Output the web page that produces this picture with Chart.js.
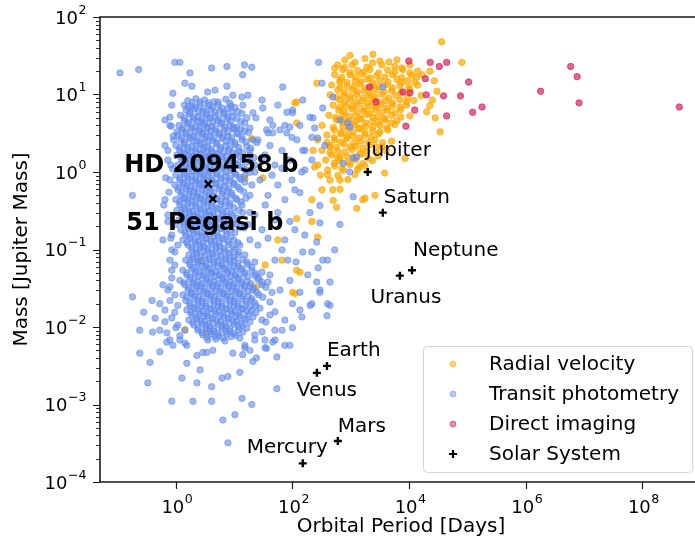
<!DOCTYPE html>
<html>
<head>
<meta charset="utf-8">
<script src="https://cdn.jsdelivr.net/npm/chart.js@4.4.1/dist/chart.umd.min.js"></script>
<style>
html,body{margin:0;padding:0;background:#fff;overflow:hidden}
canvas{display:block}
</style>
</head>
<body>
<canvas id="exoChart" width="695" height="547"></canvas>
<script>
// ── Data: [orbital period (days), mass (Jupiter masses)] ──
var rvPlanets = [
  [36000,48],[966,32],[2400,33],
  [790,28],[1750,29],[3150,27],[6200,28],
  [600,24],[1050,24],[3400,24],[5700,23],[10300,24],[80000,26],
  [730,21],[1300,20.5],[2130,21],[4300,20.7],[7800,21],[14000,20],
  [530,18],[970,17.9],[1550,18.5],[2800,17.5],[5200,18],[11000,17.6],[16800,18],
  [650,15.4],[1180,15],[1900,15.8],[3150,15.2],[6200,15.6],[9400,15],
  [470,13.3],[860,13],[1430,13.6],[2350,13],[4000,13.4],[6950,13],[14000,13.2],
  [600,11.4],[1050,11.6],[1680,11.2],[2700,11.5],[5000,11.2],[10300,11.5],
  [440,9.9],[750,9.7],[1260,10],[2020,9.6],[3400,10],[5900,9.8],[16000,9.7],
  [650,8.5],[970,8.7],[1550,8.3],[2480,8.6],[4000,8.3],[6950,8.6],[12000,8.4],
  [500,7.3],[820,7.1],[1300,7.4],[2130,7.1],[3300,7.4],[5200,7.2],[9000,7.3],[22700,7.2],
  [620,6.3],[1050,6.5],[1680,6.1],[2700,6.4],[4300,6.2],[7200,6.4],
  [420,5.4],[730,5.5],[1180,5.3],[1900,5.5],[2950,5.2],[5000,5.4],[10300,5.3],
  [570,4.7],[930,4.6],[1430,4.8],[2350,4.5],[3850,4.7],[6200,4.6],
  [320,4.0],[730,3.9],[1180,4.1],[1800,3.9],[3150,4.0],[5700,4.1],[34000,3.3],
  [520,3.5],[890,3.4],[1380,3.6],[2350,3.4],[4300,3.5],
  [390,3.0],[680,3.1],[1100,2.9],[1750,3.0],[2950,3.1],
  [270,2.6],[530,2.6],[860,2.7],[1480,2.5],[2600,2.6],[5000,2.5],
  [440,2.2],[750,2.3],[1220,2.15],[2130,2.25],[3400,2.1],
  [320,1.9],[600,1.85],[1050,1.95],[1900,1.85],[4000,1.9],
  [470,1.66],[860,1.6],[1550,1.7],[2950,1.62],[8500,1.5],
  [370,1.43],[650,1.4],[1220,1.45],[2350,1.4],
  [270,1.23],[530,1.2],[970,1.25],[1750,1.2],[3800,0.97],
  [400,1.06],[750,1.05],[1300,1.08],
  [300,0.91],[600,0.9],[1180,0.93],
  [440,0.79],[890,0.8],
  [320,0.59],[650,0.6],[490,0.59],
  [215,0.44],[500,0.43],[1600,0.44],[2600,0.5],[1750,0.46],[1260,0.34],[570,0.35],
  [118,8],[260,14],[650,14.5],[530,22],[110,7.8],[118,4.3],[730,4.7],
  [15.3,0.84],[31,0.84],[20,2.7],[440,2.1],[650,1.56],[225,1.9],[240,1.16],[400,0.93],[650,0.79],
  [56,0.133],[66,0.073],[34,0.063],[118,0.054],[100,0.028],[2.58,0.073],[24,0.033],
  [1.43,0.0092],[3.4,0.0084],[118,0.25],[215,0.23],[270,0.145],[134,0.051],[110,0.027]
];

// densest part of the radial-velocity group
var rvCore = [
  [1180,26],[2350,25.5],[4500,26.3],
  [790,22.3],[1900,22.6],[7450,22],
  [966,19.2],[1680,19.5],[3000,19],[5700,19.4],[10300,19],
  [700,16.6],[1220,16.9],[2130,16.4],[3850,16.8],[7450,16.5],[13500,16.7],
  [860,14.3],[1480,14.6],[2400,14.1],[4330,14.5],[7450,14.2],[12600,14.4],
  [650,12.3],[1130,12.6],[1810,12.1],[3000,12.5],[5200,12.2],[9900,12.4],
  [790,10.6],[1300,10.9],[2130,10.4],[3700,10.8],[7200,10.5],
  [570,9.15],[966,9.4],[1620,9.0],[2590,9.3],[4500,9.0],[9400,9.2],
  [790,7.9],[1220,8.1],[1960,7.8],[3150,8.0],[5200,7.8],[9000,8.0],
  [650,6.8],[1050,7.0],[1680,6.7],[2700,6.9],[4150,6.7],[6950,6.9],
  [790,5.85],[1300,6.0],[2130,5.75],[3400,5.95],[5700,5.8],
  [550,5.05],[930,5.2],[1480,4.95],[2400,5.1],[3850,4.95],[7200,5.1],
  [730,4.35],[1180,4.45],[1810,4.3],[2950,4.4],[4900,4.3],
  [500,3.75],[930,3.85],[1480,3.7],[2400,3.8],[4150,3.7],
  [680,3.23],[1100,3.3],[1750,3.2],[3150,3.28],
  [520,2.78],[860,2.85],[1380,2.75],[2250,2.82],
  [390,2.4],[680,2.45],[1130,2.37],[1960,2.43],[3500,2.38],
  [570,2.07],[966,2.12],[1620,2.04],[2700,2.1],
  [440,1.78],[790,1.82],[1430,1.76],[2700,1.8],
  [600,1.52],[1100,1.55],[2000,1.5],[520,1.3],[900,1.32],[1600,1.28],[700,1.12],[1400,1.15],
  [22700,20],[27000,15],[30000,11],[25000,8.5],[20000,6],[28000,5]
];

// hot Jupiters and other transiting giants
var transitGiants = [
  [1.6,8.3],[2.2,8.8],[3.1,8.5],[4.5,8.1],[7.2,8.7],
  [1.4,7.3],[1.9,7.0],[2.6,7.5],[3.7,7.2],[5.3,7.4],[8.8,7.1],
  [1.5,6.3],[2.1,6.5],[2.9,6.1],[4.0,6.4],[5.7,6.2],[7.8,6.6],[11.6,6.0],
  [1.2,5.4],[1.7,5.6],[2.4,5.2],[3.3,5.5],[4.7,5.3],[6.7,5.6],[9.5,5.2],
  [1.4,4.6],[2.0,4.8],[2.7,4.5],[3.7,4.9],[5.2,4.6],[7.5,4.8],[13,4.5],
  [1.13,4.0],[1.6,4.2],[2.2,3.9],[3.0,4.1],[4.1,3.9],[5.9,4.2],[8.4,4.0],[11,3.8],
  [1.27,3.5],[1.8,3.6],[2.5,3.4],[3.4,3.6],[4.7,3.4],[6.7,3.5],[9.5,3.6],[15,3.4],
  [1.08,3.0],[1.5,3.1],[2.0,2.9],[2.8,3.1],[3.8,2.95],[5.5,3.05],[7.8,2.9],[11.6,3.1],
  [1.22,2.6],[1.7,2.7],[2.3,2.5],[3.1,2.65],[4.3,2.55],[6.2,2.7],[8.8,2.5],[13.6,2.6],
  [1.0,2.2],[1.37,2.3],[1.9,2.15],[2.6,2.25],[3.5,2.15],[5.0,2.3],[7.2,2.2],[10.3,2.25],[16.5,2.15],
  [1.17,1.9],[1.6,1.95],[2.2,1.85],[3.0,1.95],[4.1,1.85],[5.7,1.95],[8.1,1.9],[12,1.85],
  [1.04,1.66],[1.43,1.7],[1.96,1.6],[2.7,1.7],[3.7,1.62],[5.25,1.7],[7.5,1.62],[10.7,1.68],[18.6,1.64],
  [1.27,1.43],[1.74,1.47],[2.4,1.4],[3.3,1.46],[4.5,1.4],[6.4,1.45],[9.1,1.4],[14.1,1.45],
  [1.08,1.23],[1.48,1.26],[2.04,1.2],[2.8,1.25],[3.83,1.21],[5.5,1.25],[7.8,1.2],[11.6,1.24],
  [1.22,1.06],[1.67,1.09],[2.3,1.03],[3.14,1.08],[4.3,1.04],[6.15,1.08],[8.8,1.04],[15.9,1.07],
  [1.0,0.91],[1.37,0.94],[1.88,0.89],[2.58,0.93],[3.54,0.9],[5.05,0.93],[7.2,0.89],[10.7,0.92],
  [1.17,0.79],[1.61,0.81],[2.2,0.77],[3.02,0.8],[4.14,0.78],[5.9,0.81],[8.44,0.77],[13,0.8],
  [0.96,0.68],[1.32,0.7],[1.81,0.66],[2.48,0.69],[3.4,0.67],[4.85,0.7],[6.93,0.66],[9.9,0.69],
  [1.08,0.59],[1.48,0.61],[2.04,0.57],[2.79,0.6],[3.83,0.58],[5.46,0.61],[7.8,0.57],[12.5,0.6],
  [1.22,0.5],[1.67,0.52],[2.29,0.49],[3.14,0.51],[4.31,0.49],[6.15,0.52],[9.1,0.5],
  [1.0,0.44],[1.37,0.45],[1.88,0.43],[2.58,0.45],[3.54,0.43],[5.05,0.45],[7.2,0.43],[11.1,0.44],
  [1.17,0.375],[1.61,0.39],[2.2,0.37],[3.02,0.385],[4.14,0.365],[5.9,0.38],[8.44,0.37],
  [1.04,0.32],[1.43,0.33],[1.96,0.31],[2.68,0.325],[3.68,0.315],[5.25,0.33],[7.5,0.31],[12,0.32],
  [1.27,0.28],[1.74,0.29],[2.38,0.27],[3.27,0.285],[4.48,0.275],[6.4,0.285],[9.5,0.275],
  [1.13,0.24],[1.54,0.25],[2.12,0.235],[2.9,0.245],[3.98,0.235],[5.68,0.245],[8.1,0.24],
  [1.37,0.21],[1.88,0.215],[2.58,0.205],[3.54,0.215],[4.85,0.205],[6.93,0.215],[10.7,0.21],
  [1.22,0.18],[1.67,0.185],[2.29,0.175],[3.14,0.185],[4.31,0.175],[6.15,0.185],[8.8,0.18],
  [1.48,0.154],[2.04,0.16],[2.79,0.15],[3.83,0.158],[5.25,0.15],[7.5,0.157],
  [1.32,0.133],[1.81,0.137],[2.48,0.13],[3.4,0.136],[4.67,0.13],[6.66,0.136],[9.9,0.132],
  [1.61,0.114],[2.2,0.118],[3.02,0.111],[4.14,0.117],[5.68,0.112],[8.1,0.116],
  [1.88,0.099],[2.58,0.102],[3.54,0.097],[4.85,0.101],[6.93,0.096],[10.3,0.1],
  [1.67,0.085],[2.29,0.088],[3.14,0.083],[4.31,0.087],[5.91,0.083],[8.44,0.086]
];

var transitGiantsB = [
  [1.9,7.9],[2.6,8.1],[3.6,7.8],[5.3,8.0],[8.4,7.7],
  [1.64,6.8],[2.2,6.9],[3.0,6.7],[4.3,6.9],[6.2,6.7],[10.3,6.8],
  [1.76,5.85],[2.46,6.0],[3.4,5.75],[4.7,5.9],[6.7,5.8],[9.1,5.95],[13.6,5.7],
  [1.4,5.0],[2.0,5.1],[2.8,4.9],[3.9,5.05],[5.5,4.95],[7.8,5.1],[11.1,4.9],
  [1.64,4.35],[2.34,4.45],[3.16,4.3],[4.33,4.4],[6.1,4.3],[8.8,4.45],[15.2,4.3],
  [1.32,3.7],[1.87,3.8],[2.57,3.65],[3.5,3.78],[4.8,3.66],[6.9,3.8],[9.8,3.7],[12.9,3.6],
  [1.49,3.25],[2.1,3.33],[2.9,3.2],[4.0,3.3],[5.5,3.2],[7.8,3.3],[11.1,3.22],[17.6,3.25],
  [1.26,2.8],[1.76,2.86],[2.34,2.76],[3.3,2.85],[4.45,2.76],[6.4,2.84],[9.1,2.77],[13.6,2.83],
  [1.43,2.42],[2.0,2.48],[2.7,2.38],[3.6,2.46],[5.0,2.38],[7.3,2.47],[10.3,2.4],[15.9,2.44],
  [1.17,2.05],[1.6,2.1],[2.22,2.02],[3.04,2.08],[4.1,2.0],[5.85,2.08],[8.4,2.02],[12,2.07],[19.3,2.03],
  [1.37,1.77],[1.87,1.8],[2.57,1.74],[3.5,1.8],[4.8,1.73],[6.7,1.8],[9.5,1.76],[14,1.78],
  [1.22,1.54],[1.67,1.58],[2.3,1.51],[3.16,1.57],[4.33,1.52],[6.15,1.57],[8.8,1.52],[12.5,1.56],[21.8,1.53],
  [1.49,1.33],[2.04,1.36],[2.8,1.31],[3.86,1.35],[5.27,1.31],[7.5,1.35],[10.6,1.31],[16.5,1.34],
  [1.26,1.14],[1.73,1.17],[2.39,1.12],[3.28,1.16],[4.48,1.12],[6.4,1.16],[9.1,1.12],[13.6,1.15],
  [1.43,0.985],[1.95,1.01],[2.7,0.97],[3.67,1.0],[5.03,0.97],[7.2,1.0],[10.3,0.97],[18.6,0.99],
  [1.17,0.845],[1.6,0.87],[2.2,0.83],[3.02,0.86],[4.14,0.83],[5.9,0.86],[8.4,0.83],[12.5,0.85],
  [1.37,0.735],[1.88,0.755],[2.57,0.72],[3.53,0.745],[4.84,0.725],[6.9,0.75],[9.9,0.72],[15.2,0.74],
  [1.12,0.63],[1.54,0.65],[2.12,0.62],[2.9,0.645],[4.0,0.62],[5.7,0.645],[8.1,0.62],[11.6,0.64],
  [1.26,0.55],[1.73,0.565],[2.39,0.535],[3.26,0.56],[4.48,0.54],[6.4,0.565],[9.1,0.535],[14.6,0.555],
  [1.43,0.465],[1.95,0.48],[2.68,0.455],[3.67,0.475],[5.04,0.455],[7.2,0.48],[10.6,0.46],
  [1.17,0.41],[1.6,0.42],[2.2,0.4],[3.02,0.415],[4.14,0.4],[5.9,0.42],[8.4,0.4],[13,0.41],
  [1.37,0.35],[1.88,0.36],[2.57,0.342],[3.53,0.357],[4.84,0.343],[6.9,0.356],[9.9,0.345],
  [1.22,0.3],[1.67,0.307],[2.3,0.293],[3.14,0.305],[4.3,0.294],[6.15,0.306],[8.8,0.292],[14,0.3],
  [1.49,0.26],[2.04,0.267],[2.79,0.254],[3.83,0.265],[5.25,0.255],[7.5,0.265],[11.1,0.256],
  [1.32,0.223],[1.8,0.23],[2.48,0.218],[3.4,0.228],[4.66,0.218],[6.65,0.227],[9.5,0.22],
  [1.6,0.195],[2.2,0.2],[3.02,0.19],[4.14,0.198],[5.7,0.19],[8.1,0.198],[12.5,0.193],
  [1.43,0.167],[1.95,0.172],[2.68,0.163],[3.67,0.17],[5.04,0.163],[7.2,0.171],[10.3,0.165],
  [1.73,0.143],[2.39,0.147],[3.26,0.14],[4.48,0.146],[6.15,0.14],[8.8,0.145],
  [1.54,0.123],[2.12,0.127],[2.9,0.121],[4.0,0.126],[5.46,0.121],[7.8,0.126],[11.6,0.122],
  [1.88,0.106],[2.57,0.109],[3.53,0.104],[4.84,0.108],[6.65,0.104],[9.5,0.107],
  [2.2,0.092],[3.02,0.095],[4.14,0.09],[5.7,0.094],[8.1,0.09],[12,0.093],
  [1.95,0.079],[2.68,0.081],[3.67,0.077],[5.04,0.08],[6.9,0.077],[9.9,0.08]
];

// Neptunes and super-Earths
var transitSmall = [
  [1.48,0.073],[2.04,0.075],[2.79,0.071],[3.83,0.074],[5.25,0.071],[7.2,0.075],[9.9,0.072],[14.1,0.074],
  [1.74,0.063],[2.38,0.065],[3.27,0.061],[4.48,0.064],[6.15,0.062],[8.44,0.065],[11.6,0.061],[17.2,0.064],
  [1.32,0.054],[1.88,0.056],[2.58,0.053],[3.54,0.055],[4.85,0.052],[6.66,0.056],[9.13,0.053],[13,0.055],[20,0.053],
  [1.54,0.047],[2.12,0.048],[2.9,0.046],[3.98,0.048],[5.46,0.046],[7.5,0.048],[10.3,0.046],[14.7,0.048],[22.6,0.046],
  [1.17,0.04],[1.74,0.041],[2.38,0.039],[3.27,0.041],[4.48,0.039],[6.15,0.041],[8.44,0.039],[11.6,0.041],[16.5,0.039],[25.5,0.041],
  [1.43,0.035],[1.96,0.036],[2.68,0.034],[3.68,0.036],[5.05,0.034],[6.93,0.036],[9.5,0.034],[13,0.036],[18.6,0.034],[30,0.035],
  [1.61,0.03],[2.2,0.031],[3.02,0.029],[4.14,0.031],[5.68,0.029],[7.8,0.031],[10.7,0.029],[14.7,0.031],[20.9,0.03],
  [1.32,0.026],[1.81,0.027],[2.48,0.025],[3.4,0.027],[4.67,0.025],[6.4,0.027],[8.8,0.025],[12,0.027],[17.2,0.025],[26.5,0.026],
  [1.48,0.022],[2.04,0.023],[2.79,0.0215],[3.83,0.023],[5.25,0.0215],[7.2,0.023],[9.9,0.0215],[13.6,0.023],[19.3,0.022],
  [1.74,0.019],[2.38,0.0197],[3.27,0.0185],[4.48,0.0196],[6.15,0.0185],[8.44,0.0196],[11.6,0.0186],[15.9,0.0195],[23.6,0.0188],
  [1.54,0.0166],[2.12,0.0171],[2.9,0.0162],[3.98,0.017],[5.46,0.0162],[7.5,0.017],[10.3,0.0162],[14.1,0.017],[20.1,0.0165],
  [1.88,0.0143],[2.58,0.0147],[3.54,0.014],[4.85,0.0147],[6.66,0.014],[9.13,0.0147],[12.5,0.014],[17.9,0.0145],
  [1.67,0.0123],[2.29,0.0127],[3.14,0.012],[4.31,0.0126],[5.91,0.012],[8.11,0.0126],[11.1,0.012],[15.9,0.0125],
  [2.04,0.0106],[2.79,0.011],[3.83,0.0103],[5.25,0.0109],[7.2,0.0103],[9.9,0.0109],[14.1,0.0105],
  [2.38,0.0091],[3.27,0.0094],[4.48,0.0089],[6.15,0.0094],[8.44,0.0089],[12,0.0092],
  [2.9,0.0079],[3.98,0.0082],[5.46,0.0077],[7.49,0.0081],[10.7,0.0078],
  [3.54,0.0068],[4.85,0.007],[6.93,0.0066]
];

var transitSmallB = [
  [1.73,0.068],[2.39,0.07],[3.26,0.066],[4.48,0.069],[6.15,0.066],[8.4,0.07],[11.6,0.067],[16.5,0.069],
  [2.04,0.0585],[2.79,0.06],[3.83,0.057],[5.25,0.0595],[7.2,0.057],[9.9,0.06],[13.6,0.057],[20.1,0.059],
  [1.54,0.05],[2.2,0.052],[3.02,0.049],[4.14,0.051],[5.7,0.0485],[7.8,0.052],[10.7,0.049],[15.2,0.051],[23.4,0.049],
  [1.8,0.0437],[2.48,0.0447],[3.4,0.0428],[4.66,0.0446],[6.4,0.0428],[8.8,0.0446],[12,0.0428],[17.2,0.0446],[26.4,0.043],
  [1.37,0.0372],[2.04,0.038],[2.79,0.0363],[3.83,0.038],[5.25,0.0363],[7.2,0.038],[9.9,0.0363],[13.6,0.038],[19.3,0.0363],[29.8,0.038],
  [1.67,0.0325],[2.3,0.0335],[3.14,0.0316],[4.3,0.0334],[5.9,0.0316],[8.1,0.0334],[11.1,0.0316],[15.2,0.0334],[21.8,0.0316],[35,0.0325],
  [1.88,0.0279],[2.57,0.0288],[3.53,0.027],[4.84,0.0288],[6.65,0.027],[9.1,0.0288],[12.5,0.027],[17.2,0.0288],[24.5,0.0279],
  [1.54,0.0242],[2.12,0.025],[2.9,0.0233],[4.0,0.025],[5.46,0.0233],[7.5,0.025],[10.3,0.0233],[14,0.025],[20.1,0.0233],[31,0.0242],
  [1.73,0.0205],[2.39,0.0214],[3.26,0.02],[4.48,0.0214],[6.15,0.02],[8.4,0.0214],[11.6,0.02],[15.9,0.0214],[22.6,0.0205],
  [2.04,0.0177],[2.79,0.0183],[3.83,0.0172],[5.25,0.0182],[7.2,0.0172],[9.9,0.0182],[13.6,0.0173],[18.6,0.0181],[27.6,0.0175],
  [1.8,0.0154],[2.48,0.0159],[3.4,0.015],[4.66,0.0158],[6.4,0.015],[8.8,0.0158],[12,0.015],[16.5,0.0158],[23.5,0.0153],
  [2.2,0.0133],[3.02,0.0137],[4.14,0.013],[5.7,0.0137],[7.8,0.013],[10.7,0.0137],[14.6,0.013],[21,0.0135],
  [1.95,0.0114],[2.68,0.0118],[3.67,0.0111],[5.04,0.0117],[6.9,0.0111],[9.5,0.0117],[13,0.0111],[18.6,0.0116],
  [2.39,0.0098],[3.26,0.0102],[4.48,0.0096],[6.15,0.0101],[8.4,0.0096],[11.6,0.0101],[16.5,0.0097],
  [2.79,0.0085],[3.83,0.0087],[5.25,0.0083],[7.2,0.0087],[9.9,0.0083],[14,0.0086],
  [3.4,0.0073],[4.66,0.0076],[6.4,0.0072],[8.8,0.0075],[12.5,0.0072]
];

// fringe of both groups
var transitEdge = [
  [0.85,7.3],[0.79,4.0],[0.92,2.6],[0.73,1.9],[0.82,1.23],[0.67,0.84],[0.76,0.55],[0.62,0.375],
  [0.73,0.23],[0.82,0.14],[0.96,0.093],
  [14.1,7.3],[16.5,5.0],[18.6,3.7],[20.9,2.6],[17.9,1.43],[22.6,1.0],[20.1,0.68],[15.9,0.46],
  [18.6,0.3],[14.7,0.19],[12.5,0.114],[11.6,0.085],
  [0.96,0.063],[0.85,0.043],[0.73,0.03],[0.79,0.022],[0.65,0.0166],[0.85,0.0131],[1.0,0.0098],[1.17,0.0077],
  [22.6,0.069],[29.9,0.051],[38,0.038],[44.5,0.028],[41,0.021],[50,0.0157],[35,0.0116],[29.9,0.0087],
  [22.6,0.0068],[15.3,0.0054],
  [17.2,9.8],[23.6,5.0],[30,8.5],[41,4.7],[56,7.3],[74,4.0],[98,2.8],[134,4.0],[163,1.9],[240,3.7],
  [360,2.2],[30,1.43],[44.5,0.91],[66,1.12],[98,0.79],[144,1.0],[34,0.375],[56,0.3],[90,0.23],
  [163,0.154],[25.5,0.114],[38,0.14],[66,0.099],[115,0.069],[183,0.047],[90,0.04],[134,0.028],
  [215,0.093],[650,0.21],[530,0.099]
];

// sparse transiting planets around the two main groups
var transitScattered = [
  [0.11,19],[0.23,21],[0.96,26],[1.17,26],[1.74,19],[4.1,22],[7.5,23],[15,24],[20,22.5],[14,18],
  [68,12.5],[1.43,14],[0.89,10.4],[1.88,12.8],[3.5,10.8],[4.7,11.4],[7.5,12.8],[9.5,9.8],[13.6,9.3],
  [0.65,4.7],[0.79,5.1],[1.04,3.3],[21,5.8],[31,6.7],[46,4.0],[100,5.8],[80,3.2],[38,3.2],[24.5,2.4],
  [280,26],[320,14],[150,8.5],[490,9.3],[330,6.7],[80,5.9],[100,6.3],[200,5.1],[225,5.0],
  [650,4.7],[890,4.3],[36,3.5],[61,3.5],[90,3.8],[46,3.2],[215,2.8],[270,2.75],[150,1.9],[1260,1.56],[3550,12.5],
  [960,3.8],[1100,1.5],[960,1.0],[1100,0.48],[740,1.3],
  [18.6,1.9],[25.5,2.6],[33.6,1.66],[41,2.2],[50,1.23],[66,1.9],[90,1.43],[119,2.6],[163,1.06],[215,1.43],
  [27.6,0.79],[38,0.5],[56,0.68],[74,0.44],[110,0.59],[134,0.54],[295,0.37],[199,0.3],[295,0.22],
  [22.6,0.28],[30,0.18],[50,0.24],[74,0.133],[110,0.18],[150,0.093],[260,0.125],[83,0.073],
  [330,0.073],[400,0.073],[275,0.058],[50,0.073],[41,0.047],[61,0.03],[260,0.038],[440,0.038],
  [295,0.028],[200,0.019],[440,0.019],[100,0.02],[145,0.0135],[390,0.014],[134,0.0166],[74,0.0123],
  [41,0.0143],[50,0.0091],[33.6,0.0068],[22.6,0.0079],[15.3,0.0058],[74,0.0058],[30,0.0123],
  [18.6,0.133],[15.3,0.085],[17.2,0.21],[13.6,0.375],[18.6,0.5],[15.3,0.91],[22.6,1.23],
  [0.18,0.5],[0.65,2.2],[0.73,1.43],[0.79,0.79],[0.65,0.44],[0.73,0.28],[0.85,0.154],[0.6,0.133],
  [0.85,0.099],[0.79,0.073],[1.08,0.114],[1.0,0.21],[0.83,3.9],[0.9,2.9],[0.88,1.1],
  [0.18,0.0245],[0.39,0.022],[0.53,0.02],[0.79,0.033],[0.85,0.054],[0.6,0.035],[0.28,0.0155],
  [0.4,0.0086],[0.53,0.0091],[0.7,0.0084],[0.44,0.013],[0.65,0.0117],[0.96,0.0155],[1.08,0.0106],
  [0.79,0.0068],[1.17,0.0068],[1.43,0.0091],[0.96,0.026],[1.08,0.019],[0.24,0.0091],
  [0.24,0.0046],[0.36,0.0035],[0.53,0.0048],[0.33,0.0019],[1.27,0.0022],[2.3,0.0019],[4.1,0.0017],
  [6.2,0.0022],[7.8,0.0023],[12.5,0.0026],[14,0.0044],[21,0.0036],[34,0.0054],[46,0.0064],[54,0.0016],
  [0.85,0.0011],[1.96,0.0011],[4.1,0.0011],[13.6,0.0012],[20,0.001],[10.3,0.00074],[6.4,0.00063],
  [7.8,0.00032],[2.6,0.0028],[1.54,0.0034],[0.89,0.0058],[1.43,0.0062],[2.9,0.0047],[0.7,0.0064],
  [1.54,0.0058],[2.3,0.0043],[3.4,0.0047],[24,0.004],[36,0.0053],[50,0.0068],[9.5,0.0046],[4.3,0.005],
  [18.6,0.005],[90,0.0058],[54,0.0041],[66,0.0091],[100,0.0098],[215,0.02],[295,0.03],[400,0.02]
];

var imagingPlanets = [
  [9900,27],[23000,26],[33000,23],[44000,26],[19000,16],[2100,12.5],[2700,8],
  [7800,10.8],[10300,10.5],[19700,9.9],[39000,9.6],[76000,9.6],[105000,14.5],
  [12500,6.3],[44000,5.3],[123000,5.9],[178000,6.9],[8800,3.9],
  [1.8e6,11],[5.9e6,23],[7.6e6,17],[8.2e6,7.8],[4.3e8,6.9]
];

var solarNames   = ['Mercury','Venus','Earth','Mars','Jupiter','Saturn','Uranus','Neptune'];
var solarPeriods = [150, 262, 390, 600, 1950, 3540, 6950, 11200];
var solarMasses  = [0.000174, 0.00256, 0.00315, 0.000338, 1.0, 0.299, 0.046, 0.054];

var namedNames   = ['HD 209458 b', '51 Pegasi b'];
var namedPeriods = [3.6, 4.3];
var namedMasses  = [0.70, 0.45];

var xTickExps = [0, 2, 4, 6, 8];
var yTickExps = [-4, -3, -2, -1, 0, 1, 2];
var xRange = [0.05, 8e8];
var yRange = [1e-4, 100];

// ── Styles ──
var FONT = '"DejaVu Sans", sans-serif';
var COL_RV = 'rgba(255,168,0,0.7)';
var COL_TR = 'rgba(96,138,236,0.6)';
var COL_DI = 'rgba(214,28,92,0.68)';

// where each name sits relative to its marker
var labelPos = {
  'Mercury': {dx: 25, dy: -10, align: 'right'},
  'Venus':   {dx: 10, dy: 23, align: 'center'},
  'Earth':   {dx: 0, dy: -10, align: 'left'},
  'Mars':    {dx: 0, dy: -9, align: 'left'},
  'Jupiter': {dx: -2, dy: -16, align: 'left'},
  'Saturn':  {dx: 1, dy: -10, align: 'left'},
  'Uranus':  {dx: 6, dy: 27, align: 'center'},
  'Neptune': {dx: 1, dy: -14, align: 'left'},
  'HD 209458 b': {dx: 3, dy: -12, align: 'center', bold: true},
  '51 Pegasi b': {dx: -8, dy: 31, align: 'center', bold: true}
};

function toPoints(list) {
  return list.map(function(p) { return {x: p[0], y: p[1]}; });
}
function zipPoints(xs, ys) {
  return xs.map(function(x, i) { return {x: x, y: ys[i]}; });
}

// draws "10" with a raised exponent
function powLabel(ctx, exp, x, y, align) {
  var base = '10', sup = exp < 0 ? '\u2212' + (-exp) : String(exp);
  ctx.font = '18px ' + FONT;
  var wb = ctx.measureText(base).width;
  ctx.font = '12.6px ' + FONT;
  var ws = ctx.measureText(sup).width;
  var x0 = align === 'right' ? x - wb - ws : x - (wb + ws) / 2;
  ctx.textAlign = 'left';
  ctx.textBaseline = 'alphabetic';
  ctx.font = '18px ' + FONT;
  ctx.fillText(base, x0, y);
  ctx.font = '12.6px ' + FONT;
  ctx.fillText(sup, x0 + wb + 0.5, y - 10);
}

var framePlugin = {
  id: 'frame',
  afterDatasetsDraw: function(chart) {
    var ctx = chart.ctx, xs = chart.scales.x, ys = chart.scales.y;
    ctx.save();
    ctx.fillStyle = '#000';
    ctx.textBaseline = 'alphabetic';
    var names = solarNames.concat(namedNames);
    var pers = solarPeriods.concat(namedPeriods);
    var mass = solarMasses.concat(namedMasses);
    names.forEach(function(n, i) {
      var lp = labelPos[n];
      var px = xs.getPixelForValue(pers[i]), py = ys.getPixelForValue(mass[i]);
      ctx.font = (lp.bold ? 'bold 24px ' : '20px ') + FONT;
      ctx.textAlign = lp.align;
      ctx.fillText(n, px + lp.dx, py + lp.dy);
    });
    ctx.restore();
  },
  afterDraw: function(chart) {
    var ctx = chart.ctx, a = chart.chartArea, xs = chart.scales.x, ys = chart.scales.y;
    ctx.save();
    // spines
    ctx.strokeStyle = '#1a1a1a';
    ctx.lineWidth = 1.6;
    ctx.beginPath();
    ctx.moveTo(a.left, a.top); ctx.lineTo(a.right, a.top);
    ctx.moveTo(a.left, a.top - 0.8); ctx.lineTo(a.left, a.bottom + 0.8);
    ctx.moveTo(a.left, a.bottom); ctx.lineTo(a.right, a.bottom);
    ctx.stroke();

    // tick marks
    ctx.lineWidth = 1.2;
    ctx.beginPath();
    yTickExps.forEach(function(e) {
      var py = Math.round(ys.getPixelForValue(Math.pow(10, e))) + 0.5;
      ctx.moveTo(a.left - 7, py); ctx.lineTo(a.left, py);
    });
    xTickExps.forEach(function(e) {
      var px = Math.round(xs.getPixelForValue(Math.pow(10, e))) + 0.5;
      ctx.moveTo(px, a.bottom); ctx.lineTo(px, a.bottom + 7);
    });
    ctx.stroke();
    ctx.lineWidth = 0.9;
    ctx.beginPath();
    for (var e = -4; e < 2; e++) {
      for (var m = 2; m < 10; m++) {
        var py = Math.round(ys.getPixelForValue(m * Math.pow(10, e))) + 0.5;
        ctx.moveTo(a.left - 4, py); ctx.lineTo(a.left, py);
      }
    }
    ctx.stroke();

    // tick labels
    ctx.fillStyle = '#000';
    yTickExps.forEach(function(e) {
      powLabel(ctx, e, 86, ys.getPixelForValue(Math.pow(10, e)) + 6.5, 'right');
    });
    xTickExps.forEach(function(e) {
      powLabel(ctx, e, xs.getPixelForValue(Math.pow(10, e)) + 1, 513, 'center');
    });

    // axis titles
    ctx.font = '20px ' + FONT;
    ctx.textAlign = 'center';
    ctx.textBaseline = 'alphabetic';
    ctx.fillText('Orbital Period [Days]', 401, 532);
    ctx.save();
    ctx.translate(27, (a.top + a.bottom) / 2);
    ctx.rotate(-Math.PI / 2);
    ctx.fillText('Mass [Jupiter Mass]', 0, 0);
    ctx.restore();

    // legend
    var lx = 423, ly = 346, lw = 269, lh = 126;
    ctx.fillStyle = 'rgba(255,255,255,0.85)';
    ctx.strokeStyle = '#d4d4d4';
    ctx.lineWidth = 1;
    ctx.beginPath();
    ctx.roundRect(lx + 0.5, ly + 0.5, lw, lh, 4);
    ctx.fill();
    ctx.stroke();
    var items = chart.data.datasets.filter(function(d) { return d.inLegend; })
      .sort(function(p, q) { return p.legendRow - q.legendRow; });
    items.forEach(function(d, i) {
      var cy = 364 + i * 30;
      if (d.pointStyle === 'cross') {
        ctx.strokeStyle = '#000';
        ctx.lineWidth = 2.2;
        ctx.beginPath();
        ctx.moveTo(449, cy); ctx.lineTo(457, cy);
        ctx.moveTo(453, cy - 4); ctx.lineTo(453, cy + 4);
        ctx.stroke();
      } else {
        ctx.globalAlpha = 0.75;
        ctx.fillStyle = d.pointBackgroundColor;
        ctx.strokeStyle = d.pointBorderColor;
        ctx.lineWidth = 1;
        ctx.beginPath();
        ctx.arc(453, cy, 3, 0, Math.PI * 2);
        ctx.fill();
        ctx.stroke();
        ctx.globalAlpha = 1;
      }
      ctx.fillStyle = '#000';
      ctx.font = '20px ' + FONT;
      ctx.textAlign = 'left';
      ctx.textBaseline = 'middle';
      ctx.fillText(d.label, 489, cy + 1);
    });
    ctx.restore();
  }
};

function scatterSet(label, list, color, order, row) {
  return {
    label: label, data: toPoints(list), order: order,
    pointRadius: 3.2, pointBorderWidth: 1,
    pointBackgroundColor: color, pointBorderColor: color,
    inLegend: true, legendRow: row
  };
}

new Chart(document.getElementById('exoChart'), {
  type: 'scatter',
  data: {
    datasets: [
      {
        label: 'Solar System', data: zipPoints(solarPeriods, solarMasses), order: 0,
        pointStyle: 'cross', pointRadius: 4, pointBorderWidth: 2.4,
        pointBorderColor: '#000', pointBackgroundColor: '#000',
        inLegend: true, legendRow: 3
      },
      {
        label: 'Named planets', data: zipPoints(namedPeriods, namedMasses), order: 0,
        pointStyle: 'crossRot', pointRadius: 5, pointBorderWidth: 2.4,
        pointBorderColor: '#000', pointBackgroundColor: '#000'
      },
      scatterSet('Direct imaging', imagingPlanets, COL_DI, 1, 2),
      scatterSet('Transit photometry',
        transitGiants.concat(transitGiantsB, transitSmall, transitSmallB, transitEdge, transitScattered),
        COL_TR, 2, 1),
      scatterSet('Radial velocity', rvPlanets.concat(rvCore), COL_RV, 3, 0)
    ]
  },
  options: {
    responsive: false,
    animation: false,
    devicePixelRatio: 1,
    events: [],
    layout: {autoPadding: false, padding: {left: 100, top: 17, right: 0, bottom: 65}},
    plugins: {legend: {display: false}, tooltip: {enabled: false}},
    scales: {
      x: {type: 'logarithmic', display: false, min: xRange[0], max: xRange[1], bounds: 'data'},
      y: {type: 'logarithmic', display: false, min: yRange[0], max: yRange[1], bounds: 'data'}
    }
  },
  plugins: [framePlugin]
});
</script>
</body>
</html>
